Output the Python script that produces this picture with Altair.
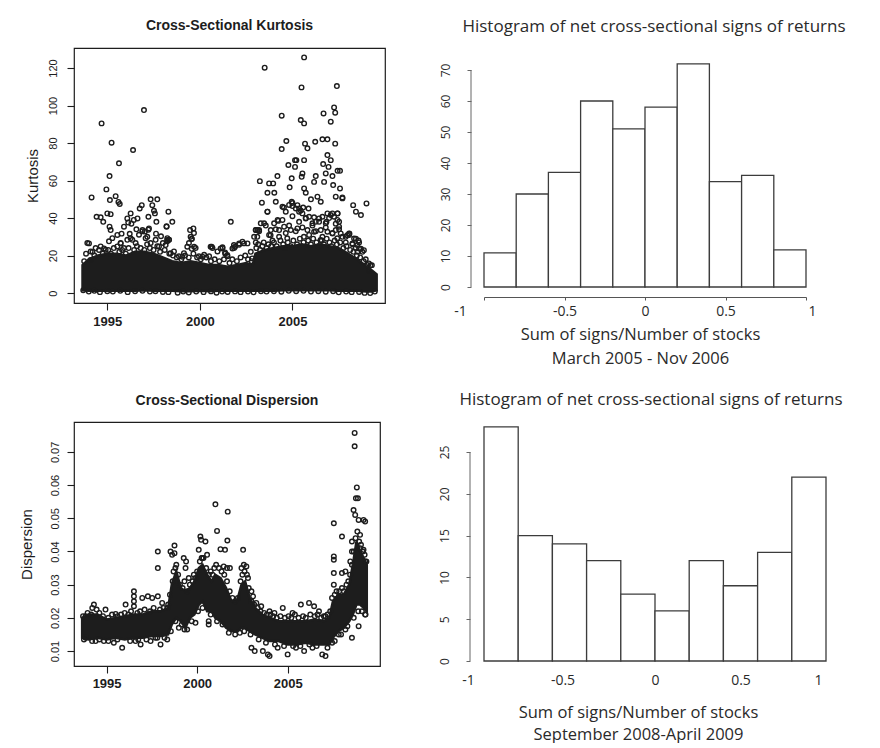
import altair as alt
import pandas as pd

# ---------------- Cross-Sectional Kurtosis ----------------
kurt_band_year = [1993.66, 1994.0, 1994.5, 1995.0, 1995.5, 1996.0, 1996.5, 1997.0, 1997.5, 1998.0,
                  1998.5, 1999.0, 1999.5, 2000.0, 2000.5, 2001.0, 2001.5, 2002.0, 2002.5, 2002.85,
                  2003.0, 2003.5, 2004.0, 2004.5, 2005.0, 2005.5, 2006.0, 2006.5, 2007.0, 2007.5,
                  2008.0, 2008.5, 2009.0, 2009.3, 2009.55]
kurt_band_low = [1.5, 1.2, 1.2, 1.2, 1.2, 1.2, 1.2, 1.5, 1.2, 1.2,
                 1.2, 1.0, 1.0, 1.2, 1.0, 1.2, 1.2, 1.2, 1.2, 1.2,
                 1.2, 1.2, 1.2, 1.5, 1.5, 1.5, 1.5, 1.5, 1.5, 1.2,
                 1.2, 1.2, 0.8, 0.8, 1.5]
kurt_band_high = [15, 18, 20, 21, 21, 20, 22, 22, 21, 19,
                  17, 16, 17, 16, 15, 15, 14, 15, 16, 15,
                  21, 23, 24, 25, 25, 26, 25, 26, 25, 24,
                  21, 18, 14, 12, 10]

kurt_outliers = [
    (1994.15, 51), (1994.69, 90.5), (1994.42, 40.7), (1994.64, 40.4), (1994.78, 38), (1994.95, 55.3),
    (1995.12, 62.4), (1995.23, 80.2), (1995.14, 49.6), (1995.18, 42.1), (1995.0, 42.5), (1995.12, 35.4),
    (1995.18, 33.6), (1995.45, 51.7), (1995.63, 69.2), (1995.6, 48.6), (1995.67, 47.5), (1995.54, 31),
    (1995.77, 31.7), (1995.9, 35.4), (1996.08, 39.8), (1996.13, 37.6), (1996.26, 42.5), (1996.39, 76.3),
    (1996.3, 37), (1996.43, 39), (1996.57, 34), (1996.63, 39.8), (1996.75, 45.1), (1996.86, 46.9),
    (1996.98, 97.6), (1996.9, 33.6), (1997.03, 32.8), (1997.22, 40.7), (1997.34, 50), (1997.43, 46.9),
    (1997.52, 43.9), (1997.57, 42.5), (1997.65, 38), (1997.7, 50), (1997.25, 34.5), (1997.63, 31.7),
    (1997.9, 30.3), (1998.15, 25.6), (1998.3, 43.4), (1998.2, 35.4), (1998.51, 38), (1998.33, 28.5),
    (1998.24, 27.6), (1999.05, 19.4), (1999.47, 33.6), (1999.65, 34.5), (1999.56, 29), (1999.69, 24.7),
    (1999.56, 23.6), (2000.14, 19.4), (2000.64, 24.7), (2001.22, 24.4), (2001.37, 21), (2001.67, 38),
    (2001.76, 23.8), (2001.9, 24.7), (2002.12, 26.5), (2002.3, 27.4), (2002.57, 26.5), (2003.02, 33.6),
    (2003.2, 33.6), (2003.24, 59.7), (2003.35, 48.2), (2003.5, 120.2), (2003.65, 53.5), (2003.65, 43.4),
    (2003.74, 58.5), (2003.96, 58.5), (2004.02, 53.5), (2004.1, 48.7), (2004.19, 62.4), (2004.23, 38.5),
    (2004.42, 76.8), (2004.42, 94.6), (2004.54, 45.6), (2004.67, 81.1), (2004.78, 68.3), (2004.85, 56.4),
    (2004.96, 61.2), (2004.96, 48.7), (2005.0, 46.4), (2005.14, 70.9), (2005.14, 67.3), (2005.21, 70.9),
    (2005.27, 46.9), (2005.45, 92.3), (2005.49, 109.7), (2005.58, 45.6), (2005.63, 125.7), (2005.63, 90.5),
    (2005.63, 70.9), (2005.54, 63.8), (2005.5, 62), (2005.36, 45.1), (2005.63, 55.8), (2005.72, 53.5),
    (2005.68, 79.7), (2005.81, 77.2), (2005.87, 45.1), (2006.0, 50), (2006.17, 40.4), (2006.23, 80.7),
    (2006.17, 59.3), (2006.26, 62.4), (2006.35, 51.4), (2006.53, 48.7), (2006.68, 95.8), (2006.62, 82),
    (2006.66, 68.8), (2006.71, 59.3), (2006.8, 63.8), (2006.89, 82), (2006.89, 73.6), (2006.95, 67.3),
    (2006.89, 42.5), (2006.84, 38), (2007.07, 91.4), (2007.07, 70.9), (2007.16, 62.4), (2007.2, 57.6),
    (2007.25, 99), (2007.31, 96.2), (2007.4, 110.4), (2007.31, 79.7), (2007.44, 65.2), (2007.57, 65.2),
    (2007.57, 55.8), (2007.7, 51), (2007.34, 51.4), (2007.16, 42.5), (2007.44, 42.5), (2007.52, 35.4),
    (2008.28, 46.9), (2008.43, 43.4), (2008.7, 41.6), (2009.0, 47.8), (2009.29, 14.9), (2008.43, 29),
    (2008.57, 28), (2008.7, 23.6), (2008.08, 31.7),
]
kurt_upper = [
    (2003.11, 33.6), (2003.65, 43.4), (2003.47, 37.2), (2004.01, 37.2), (2004.2, 39), (2004.46, 46),
    (2004.64, 43.4), (2004.82, 47), (2005.0, 48), (2005.18, 45.1), (2005.36, 43.4), (2005.54, 42.5),
    (2005.72, 39.8), (2005.9, 40.7), (2006.08, 37.2), (2006.26, 38), (2006.44, 39.8), (2006.62, 40.7),
    (2006.8, 37.2), (2007.07, 41.6), (2007.25, 40.7), (2007.43, 39), (2007.52, 38), (2007.43, 42.5),
    (2007.7, 50.5), (2008.06, 31.8), (2008.33, 29.1), (2008.6, 23.8), (2003.02, 33.6), (2003.29, 37.2),
    (2003.83, 33.6), (2004.28, 33.6), (2004.55, 35.4), (2004.91, 33.6), (2005.27, 34.5), (2005.81, 33.6),
    (2006.17, 32.7), (2006.53, 33.6), (2006.89, 32.7), (2007.16, 31.8), (2007.34, 33.6), (2007.61, 31.8),
    (2007.88, 30), (2008.24, 26.5), (2008.51, 22),
    (2002.75, 22), (2002.93, 30), (2003.02, 27), (2003.2, 33), (2003.38, 25), (2003.56, 36), (2003.74, 31),
    (2003.92, 28), (2004.1, 34), (2004.28, 30), (2004.46, 39), (2004.64, 32), (2004.82, 36), (2005.0, 41),
    (2005.18, 33), (2005.36, 38), (2005.45, 44), (2005.54, 35), (2005.72, 40), (2005.9, 31), (2006.08, 36),
    (2006.26, 33), (2006.44, 38), (2006.62, 30), (2006.8, 35), (2006.98, 40), (2007.16, 32), (2007.34, 37),
    (2007.52, 34), (2007.7, 30), (2007.88, 27), (2008.06, 31), (2008.24, 26), (2008.42, 24), (2008.6, 27),
    (2008.78, 22), (2008.96, 18), (2009.14, 12),
]
kurt_fringe = [
    (1993.92, 26.7), (1994.1, 22.2), (1994.37, 24), (1994.64, 24.9), (1994.91, 23.1), (1995.09, 27.6),
    (1995.27, 29.3), (1995.54, 24.9), (1995.72, 26.7), (1995.9, 24), (1996.08, 28.4), (1996.21, 31.6),
    (1996.35, 28.4), (1996.53, 26.7), (1996.71, 31.1), (1996.89, 32.9), (1997.07, 29.3), (1997.22, 33.8),
    (1997.34, 26.7), (1997.61, 28.4), (1997.79, 24.9), (1998.0, 26.7), (1998.24, 29.3), (1998.33, 28.4),
    (1998.2, 35.6), (1998.6, 22.2), (1998.87, 19.6), (1999.14, 21.3), (1999.41, 26.7), (1999.56, 28.8),
    (1999.68, 32), (1999.77, 24), (1999.95, 19.6), (2000.23, 20.4), (2000.5, 19.6), (2000.68, 24),
    (2000.95, 22.2), (2001.22, 24), (2001.36, 21.7), (2001.49, 19.6), (2001.85, 24), (2002.12, 25.8),
    (1994.01, 26.5), (1994.09, 17.6), (1994.82, 23.8), (1995.72, 26.5), (1996.26, 29.2), (1997.16, 30),
    (1998.24, 28.3), (1998.42, 21.2), (1999.32, 24.7), (1999.5, 30), (2000.58, 24.7), (2001.12, 23.8),
    (2001.48, 20.3), (2001.84, 25.6), (2002.38, 26.5), (2002.83, 18.5), (2003.1, 30), (2003.82, 30.9),
    (2004.72, 29.2), (2005.62, 30), (2006.52, 28.3), (2007.42, 29.2), (2007.96, 30.9), (2008.5, 25.6),
    (2008.86, 22.9), (2009.13, 15.8), (2009.22, 14.9),
    (2003.05, 24), (2003.15, 26), (2003.25, 23), (2003.45, 27), (2003.6, 24), (2003.7, 26), (2003.85, 25),
    (2004.0, 27), (2004.15, 25), (2004.35, 28), (2004.5, 26), (2004.6, 24), (2004.75, 27), (2004.9, 25),
    (2005.05, 28), (2005.25, 26), (2005.4, 29), (2005.6, 27), (2005.75, 25), (2005.85, 28), (2006.0, 26),
    (2006.12, 29), (2006.3, 27), (2006.4, 25), (2006.58, 28), (2006.7, 26), (2006.85, 29), (2007.0, 27),
    (2007.1, 25), (2007.28, 28), (2007.4, 26), (2007.58, 27), (2007.75, 24), (2007.92, 25), (2008.12, 23),
    (2008.3, 22), (2008.48, 20), (2008.66, 19), (2008.85, 17), (2009.05, 15),
    (1993.75, 17), (1993.85, 21), (1994.2, 22), (1994.3, 20), (1994.55, 23), (1994.75, 21), (1995.05, 23),
    (1995.2, 21), (1995.35, 24), (1995.65, 22), (1995.8, 23), (1996.0, 21), (1996.15, 24), (1996.45, 23),
    (1996.6, 25), (1996.8, 24), (1997.0, 23), (1997.15, 26), (1997.3, 24), (1997.5, 23), (1997.7, 25),
    (1997.85, 22), (1998.1, 23), (1998.35, 21), (1998.55, 20), (1998.75, 19), (1999.0, 18), (1999.2, 20),
    (1999.4, 19), (1999.65, 21), (1999.85, 19), (2000.05, 18), (2000.35, 19), (2000.6, 17), (2000.8, 18),
    (2001.05, 17), (2001.3, 18), (2001.6, 16), (2001.75, 18), (2002.0, 17), (2002.2, 19), (2002.45, 20),
    (2002.6, 18), (2002.8, 17),
]
kurt_bottom = [
    (1993.7, 1.5), (1994.0, 0.8), (1994.3, 1.2), (1994.6, 0.5), (1995.0, 1.0), (1995.3, 0.8), (1995.7, 1.2),
    (1996.1, 0.5), (1996.5, 1.0), (1996.9, 1.2), (1997.3, 0.8), (1997.6, 1.0), (1998.0, 0.6), (1998.3, 0.5),
    (1998.8, 0.2), (1999.1, 0.8), (1999.4, 0.3), (1999.8, 0.8), (2000.2, 0.5), (2000.6, 0.9), (2000.9, 0.2),
    (2001.2, 0.8), (2001.5, 0.6), (2001.9, 0.9), (2002.2, 0.5), (2002.6, 0.8), (2002.9, 0.4), (2003.3, 1.0),
    (2003.6, 0.8), (2004.0, 1.0), (2004.4, 0.7), (2004.8, 1.2), (2005.2, 1.0), (2005.6, 1.2), (2006.0, 0.8),
    (2006.4, 1.0), (2006.8, 0.7), (2007.2, 1.0), (2007.5, 0.4), (2007.9, 0.8), (2008.2, 0.5), (2008.6, 0.6),
    (2008.9, 0.1), (2009.2, 0.0), (2009.45, 0.8),
]

# ---------------- Cross-Sectional Dispersion ----------------
disp_band_year = [1993.65, 1994.0, 1994.5, 1995.0, 1995.5, 1996.0, 1996.5, 1997.0, 1997.5, 1998.0,
                  1998.4, 1998.6, 1998.85, 1999.1, 1999.35, 1999.6, 1999.85, 2000.1, 2000.3, 2000.55,
                  2000.8, 2001.0, 2001.3, 2001.6, 2001.9, 2002.2, 2002.45, 2002.65, 2002.9, 2003.2,
                  2003.6, 2004.0, 2004.5, 2005.0, 2005.5, 2006.0, 2006.5, 2007.0, 2007.3, 2007.5,
                  2007.8, 2008.1, 2008.4, 2008.6, 2008.8, 2009.0, 2009.2, 2009.37]
disp_band_low = [0.014, 0.0135, 0.014, 0.0135, 0.014, 0.0135, 0.014, 0.014, 0.0145, 0.0145,
                 0.015, 0.018, 0.020, 0.019, 0.017, 0.020, 0.021, 0.024, 0.025, 0.022,
                 0.022, 0.020, 0.019, 0.017, 0.016, 0.016, 0.017, 0.017, 0.016, 0.015,
                 0.014, 0.013, 0.013, 0.012, 0.012, 0.0125, 0.012, 0.012, 0.012, 0.014,
                 0.016, 0.017, 0.019, 0.021, 0.024, 0.024, 0.023, 0.022]
disp_band_high = [0.020, 0.021, 0.021, 0.0195, 0.020, 0.0205, 0.021, 0.021, 0.022, 0.022,
                  0.023, 0.030, 0.034, 0.029, 0.028, 0.029, 0.031, 0.035, 0.036, 0.033,
                  0.031, 0.033, 0.032, 0.029, 0.025, 0.025, 0.030, 0.031, 0.026, 0.023,
                  0.021, 0.020, 0.019, 0.019, 0.019, 0.019, 0.0195, 0.019, 0.020, 0.025,
                  0.027, 0.027, 0.030, 0.036, 0.043, 0.040, 0.038, 0.036]

disp_outliers = [
    (1994.3, 0.024), (1994.21, 0.023), (1993.84, 0.0205), (1994.94, 0.0225), (1995.5, 0.0212),
    (1996.05, 0.024), (1996.51, 0.028), (1996.51, 0.0265), (1996.51, 0.025), (1996.51, 0.0235),
    (1996.97, 0.026), (1997.28, 0.0265), (1997.52, 0.026), (1997.83, 0.040), (1997.83, 0.035),
    (1997.83, 0.0265), (1998.07, 0.0245), (1998.35, 0.023), (1998.53, 0.040), (1998.62, 0.039),
    (1998.75, 0.0418), (1998.75, 0.0395), (1998.8, 0.035), (1999.26, 0.038), (1999.39, 0.037),
    (1999.36, 0.035), (1999.54, 0.032), (1999.82, 0.033), (2000.09, 0.0405), (2000.18, 0.0445),
    (2000.22, 0.0435), (2000.46, 0.043), (2000.28, 0.038), (2000.55, 0.039), (2001.01, 0.0542),
    (2001.1, 0.0462), (2001.29, 0.0407), (2001.69, 0.052), (2001.47, 0.0355), (2001.65, 0.035),
    (2001.67, 0.0433), (2001.54, 0.0405), (2001.81, 0.035), (2002.54, 0.0405), (2002.58, 0.036),
    (2002.72, 0.0355), (2002.45, 0.035), (2002.81, 0.032), (2003.0, 0.028), (2003.09, 0.0265),
    (2003.27, 0.0245), (2003.54, 0.0235), (2004.0, 0.022), (2004.27, 0.0215), (2004.73, 0.023),
    (2005.27, 0.0215), (2005.73, 0.024), (2006.18, 0.0245), (2006.46, 0.0235), (2006.73, 0.022),
    (2007.09, 0.0205), (2007.55, 0.0485), (2007.55, 0.0385), (2007.55, 0.0375), (2007.55, 0.0335),
    (2007.55, 0.030), (2008.0, 0.0445), (2008.0, 0.0335), (2008.19, 0.034), (2008.46, 0.037),
    (2008.55, 0.040), (2008.7, 0.0757), (2008.7, 0.0717), (2008.82, 0.0593), (2008.77, 0.056),
    (2008.88, 0.056), (2008.64, 0.0525), (2008.73, 0.051), (2008.92, 0.0495), (2009.19, 0.0495),
    (2009.28, 0.049), (2009.0, 0.045), (2009.19, 0.0405), (2009.28, 0.037), (2008.55, 0.043),
    (2009.0, 0.041),
]
disp_low_pts = [
    (1993.84, 0.014), (1994.39, 0.013), (1994.85, 0.013), (1995.4, 0.0125), (1995.86, 0.011),
    (1996.6, 0.013), (1996.88, 0.012), (1997.43, 0.013), (1997.7, 0.014), (1997.98, 0.012),
    (1998.35, 0.0135), (1998.99, 0.017), (1999.45, 0.0165), (1999.91, 0.0185), (2000.64, 0.019),
    (2000.64, 0.018), (2002.36, 0.0155), (2003.0, 0.011), (2003.18, 0.010), (2003.63, 0.010),
    (2003.91, 0.009), (2004.0, 0.0085), (2004.45, 0.011), (2005.0, 0.009), (2005.46, 0.011),
    (2005.91, 0.010), (2006.37, 0.011), (2006.91, 0.009), (2007.09, 0.0085), (2007.46, 0.0125),
    (2007.82, 0.015), (2008.19, 0.0165), (2008.55, 0.014), (2008.92, 0.0175), (2009.28, 0.021),
]
disp_top_fringe = [
    (1993.7, 0.0205), (1993.95, 0.0215), (1994.15, 0.021), (1994.45, 0.0225), (1994.6, 0.0215),
    (1994.8, 0.0205), (1995.1, 0.020), (1995.3, 0.021), (1995.6, 0.0205), (1995.8, 0.021),
    (1996.0, 0.0215), (1996.2, 0.021), (1996.35, 0.022), (1996.7, 0.0215), (1996.85, 0.022),
    (1997.1, 0.0225), (1997.4, 0.022), (1997.6, 0.023), (1997.95, 0.0225), (1998.15, 0.023),
    (1998.4, 0.024), (1998.5, 0.027), (1998.65, 0.031), (1998.7, 0.034), (1998.85, 0.036),
    (1998.95, 0.033), (1999.05, 0.030), (1999.2, 0.029), (1999.3, 0.031), (1999.45, 0.028),
    (1999.6, 0.030), (1999.75, 0.031), (1999.9, 0.032), (2000.0, 0.034), (2000.15, 0.037),
    (2000.25, 0.038), (2000.35, 0.038), (2000.5, 0.035), (2000.65, 0.033), (2000.75, 0.034),
    (2000.85, 0.033), (2000.95, 0.035), (2001.05, 0.036), (2001.2, 0.035), (2001.35, 0.034),
    (2001.5, 0.033), (2001.65, 0.031), (2001.8, 0.028), (2001.95, 0.026), (2002.1, 0.025),
    (2002.25, 0.026), (2002.4, 0.031), (2002.5, 0.033), (2002.62, 0.034), (2002.75, 0.033),
    (2002.85, 0.029), (2003.0, 0.025), (2003.15, 0.024), (2003.35, 0.023), (2003.5, 0.022),
    (2003.7, 0.0215), (2003.85, 0.021), (2004.05, 0.021), (2004.2, 0.0205), (2004.4, 0.020),
    (2004.6, 0.0205), (2004.85, 0.020), (2005.05, 0.0205), (2005.2, 0.020), (2005.4, 0.021),
    (2005.6, 0.020), (2005.85, 0.0205), (2006.0, 0.020), (2006.25, 0.021), (2006.5, 0.0205),
    (2006.65, 0.021), (2006.85, 0.020), (2007.0, 0.0205), (2007.2, 0.021), (2007.35, 0.022),
    (2007.45, 0.026), (2007.6, 0.027), (2007.7, 0.028), (2007.85, 0.028), (2008.0, 0.029),
    (2008.1, 0.028), (2008.25, 0.030), (2008.35, 0.031), (2008.45, 0.033), (2008.55, 0.036),
    (2008.65, 0.040), (2008.75, 0.044), (2008.85, 0.046), (2008.95, 0.043), (2009.05, 0.042),
    (2009.15, 0.040), (2009.25, 0.039), (2009.35, 0.037),
]
disp_bottom_fringe = [
    (1993.75, 0.0135), (1994.2, 0.013), (1994.6, 0.0135), (1995.1, 0.013), (1995.6, 0.0135),
    (1996.3, 0.013), (1996.75, 0.0135), (1997.2, 0.0135), (1997.8, 0.014), (1998.2, 0.014),
    (1998.55, 0.016), (1998.8, 0.019), (1999.15, 0.018), (1999.3, 0.0165), (1999.7, 0.019),
    (2000.05, 0.022), (2000.3, 0.023), (2000.75, 0.021), (2001.1, 0.019), (2001.4, 0.018),
    (2001.75, 0.0155), (2002.1, 0.015), (2002.6, 0.016), (2002.95, 0.015), (2003.4, 0.0135),
    (2003.8, 0.0125), (2004.3, 0.012), (2004.8, 0.0115), (2005.3, 0.0115), (2005.7, 0.0115),
    (2006.2, 0.012), (2006.6, 0.0115), (2007.2, 0.011), (2007.6, 0.013), (2007.95, 0.015),
    (2008.3, 0.0175), (2008.65, 0.020), (2008.9, 0.022), (2009.1, 0.022), (2009.3, 0.021),
]

# ---------------- Histograms ----------------
hist_edges = [-1.0, -0.8, -0.6, -0.4, -0.2, 0.0, 0.2, 0.4, 0.6, 0.8, 1.0]
counts_2005_2006 = [11, 30, 37, 60, 51, 58, 72, 34, 36, 12]
counts_2008_2009 = [28, 15, 14, 12, 8, 6, 12, 9, 13, 22]
hist_ticks = [-1, -0.5, 0, 0.5, 1]
hist_title = "Histogram of net cross-sectional signs of returns"
xlab_top = ["Sum of signs/Number of stocks", "March 2005 - Nov 2006"]
xlab_bottom = ["Sum of signs/Number of stocks", "September 2008-April 2009"]

# ---------------- styling ----------------
FR = "Liberation Sans"
FH = "Open Sans"
INK = "#1d1d1d"
HINK = "#2a2a2a"
AXG = "#666666"


def pts_df(*groups):
    rows = [p for g in groups for p in g]
    return pd.DataFrame(rows, columns=["year", "value"])


def year_axis(pad):
    return alt.Axis(values=[1995, 2000, 2005], format="d", title=None, domain=False, grid=False,
                    tickSize=7, tickColor=INK, tickWidth=1.1, labelFont=FR, labelFontSize=13,
                    labelFontWeight="bold", labelColor=INK, labelPadding=pad)


def r_y_axis(vals, fmt, title, label_pad, title_pad):
    return alt.Axis(values=vals, format=fmt, title=title, domain=False, grid=False,
                    tickSize=7, tickColor=INK, tickWidth=1.1, labelAngle=-90,
                    labelAlign="center", labelBaseline="alphabetic", labelFont=FR,
                    labelFontSize=11, labelColor=INK, labelPadding=label_pad,
                    titleFont=FR, titleFontSize=15, titleFontWeight="normal",
                    titleColor=INK, titlePadding=title_pad)


def scatter_panel(band_year, band_low, band_high, points, xdom, ydom, yvals, yfmt, ytitle,
                  lpad, tpad, xpad, w, h, title, toff):
    xs = alt.Scale(domain=xdom, nice=False, zero=False)
    ys = alt.Scale(domain=ydom, nice=False, zero=False)
    xa = year_axis(xpad)
    ya = r_y_axis(yvals, yfmt, ytitle, lpad, tpad)
    band = alt.Chart(pd.DataFrame({"year": band_year, "low": band_low, "high": band_high})).mark_area(
        color=INK, stroke=INK, strokeWidth=2.5, interpolate="linear"
    ).encode(
        x=alt.X("year:Q", scale=xs, axis=xa),
        y=alt.Y("low:Q", scale=ys, axis=ya),
        y2="high:Q",
    )
    pts = alt.Chart(points).mark_point(
        shape="circle", filled=False, size=21, strokeWidth=1.4, color=INK, opacity=1
    ).encode(
        x=alt.X("year:Q", scale=xs, axis=xa),
        y=alt.Y("value:Q", scale=ys, axis=ya),
    )
    return alt.layer(band, pts).properties(
        width=w, height=h,
        title=alt.TitleParams(title, font=FR, fontSize=14, fontWeight="bold", color=INK, offset=toff),
        view=alt.ViewBackground(stroke=INK, strokeWidth=1.2),
    )


def hist_panel(counts, ytop, ymax, ystep, w, h, xlab, x_axis_line, xoff, xlpad, label_shift, tx, ty,
               yoff, ylpad, toff, tdx, tlh):
    df = pd.DataFrame({"lo": hist_edges[:-1], "hi": hist_edges[1:], "count": counts})
    xs = alt.Scale(domain=[-1, 1], nice=False, zero=False)
    ys = alt.Scale(domain=[0, ytop], nice=False, zero=True)
    conds = [{"test": f"datum.value == {v}", "value": s} for v, s in label_shift]
    xa = alt.Axis(values=hist_ticks, labelExpr="'' + datum.value", title=xlab, grid=False,
                  domain=x_axis_line, ticks=x_axis_line, tickSize=3, domainColor="#555",
                  tickColor="#555", offset=xoff, labelPadding=xlpad, labelFont=FH, labelFontSize=14,
                  labelColor=HINK, labelFlush=False,
                  labelOffset={"condition": conds, "value": 0},
                  titleFont=FH, titleFontSize=16.5,
                  titleFontWeight="normal", titleColor=HINK, titleLineHeight=tlh,
                  titleX=tx, titleY=ty, titleAlign="center", titleBaseline="top")
    ya = alt.Axis(values=list(range(0, ymax + 1, ystep)), title=None, grid=False, domain=False,
                  tickColor=AXG, tickSize=4, offset=yoff, labelAngle=-90,
                  labelAlign="center", labelBaseline="alphabetic", labelFont=FH, labelFontSize=12,
                  labelColor=HINK, labelPadding=ylpad, labelFlush=False)
    bars = alt.Chart(df).mark_rect(fill="white", stroke="#3c3c3c", strokeWidth=1.3).encode(
        x=alt.X("lo:Q", scale=xs, axis=xa),
        x2="hi:Q",
        y=alt.Y("count:Q", scale=ys, axis=ya),
        y2=alt.datum(0),
    )
    # R-style y axis line spanning only the labelled ticks
    span = pd.DataFrame({"a": [0], "b": [ymax]})
    yline = alt.Chart(span).mark_rule(color=AXG, strokeWidth=1).encode(
        x=alt.value(-yoff),
        y=alt.Y("a:Q", scale=ys, axis=ya),
        y2="b:Q",
    )
    return alt.layer(bars, yline).properties(
        width=w, height=h,
        title=alt.TitleParams(hist_title, font=FH, fontSize=17, fontWeight="normal", color=HINK,
                              offset=toff, dx=tdx),
    )


tl = scatter_panel(kurt_band_year, kurt_band_low, kurt_band_high,
                   pts_df(kurt_outliers, kurt_upper, kurt_fringe, kurt_bottom),
                   [1993.2, 2010.0], [-5.3, 130.7], [0, 20, 40, 60, 80, 100, 120], "d", "Kurtosis",
                   11, 7, 5, 311, 255, "Cross-Sectional Kurtosis", 15)
bl = scatter_panel(disp_band_year, disp_band_low, disp_band_high,
                   pts_df(disp_outliers, disp_low_pts, disp_top_fringe, disp_bottom_fringe),
                   [1993.2, 2010.1], [0.0055, 0.079], [0.01, 0.02, 0.03, 0.04, 0.05, 0.06, 0.07],
                   ".2f", "Dispersion", 9, 15, 4, 306, 244, "Cross-Sectional Dispersion", 14)
# top histogram: view starts at the same height as the kurtosis box (value 77.1 at top)
tr = hist_panel(counts_2005_2006, 77.1, 70, 10, 322, 239, xlab_top, True, 10, 4,
                [(-1, -24), (1, 6)], 156, 29, 13, 18, 12, 9, 24)
br = hist_panel(counts_2008_2009, 25, 25, 5, 342, 209, xlab_bottom, False, 0, 12,
                [(-1, -16), (-0.5, -7), (1, -8)], 154, 43, 14, 18, 17, -4, 22)

col1 = alt.vconcat(tl, bl, spacing=64)
col2 = alt.vconcat(tr, br, spacing=24)
chart = alt.hconcat(col1, col2, spacing=51).properties(
    padding={"left": 10, "top": 10, "right": 0, "bottom": 0},
    background="white",
).configure_view(strokeWidth=0)

chart.save("out.html", embed_options={"renderer": "svg", "actions": False})
